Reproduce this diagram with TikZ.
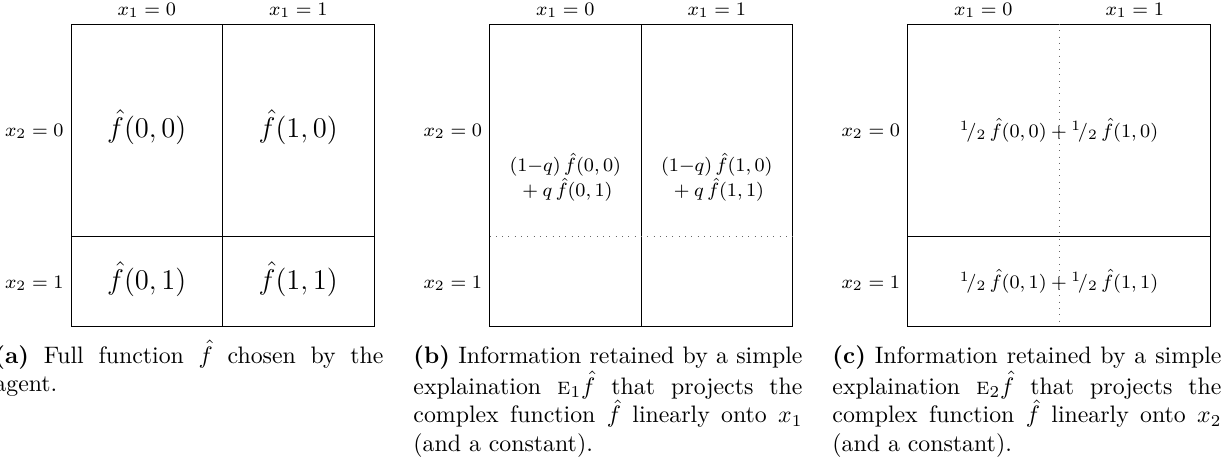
\documentclass[tikz,border=0pt]{standalone}
\usepackage{amsmath}
\newcommand{\halfw}{{}^{1}\!/{}_{2}}
\begin{document}
\begin{tikzpicture}[x=0.42pt,y=-0.42pt,
    lbl/.style={font=\footnotesize,inner sep=0pt,outer sep=0pt},
    cell/.style={font=\footnotesize,align=center,inner sep=0pt},
    bigcell/.style={font=\large,inner sep=0pt},
    capt/.style={text width=163.4pt,align=justify,inner sep=0pt,anchor=base west},
    sep/.style={draw=black!60,dash pattern=on 0.4pt off 2.25pt,line width=0.4pt}]
    \useasboundingbox (0,0) rectangle (1229,460);

    % (a) full function
    \pgfmathsetmacro{\xo}{71}
    \draw ({\xo},24) rectangle ({\xo+303},326);
    \draw ({\xo+151.5},24) -- ({\xo+151.5},326);
    \draw ({\xo},236) -- ({\xo+303},236);

    \node[lbl,anchor=base] (a-x10) at ({\xo+75.75},15) {$x_1=0$};
    \node[lbl,anchor=base] (a-x11) at ({\xo+227.25},15) {$x_1=1$};
    \node[lbl,anchor=base east] (a-x20) at ({\xo-7.5},136) {$x_2=0$};
    \node[lbl,anchor=base east] (a-x21) at ({\xo-7.5},288) {$x_2=1$};

    \node[bigcell,anchor=base] (a-c00) at ({\xo+75.75},137) {$\hat f(0,0)$};
    \node[bigcell,anchor=base] (a-c10) at ({\xo+227.25},137) {$\hat f(1,0)$};
    \node[bigcell,anchor=base] (a-c01) at ({\xo+75.75},289) {$\hat f(0,1)$};
    \node[bigcell,anchor=base] (a-c11) at ({\xo+227.25},289) {$\hat f(1,1)$};

    \node[capt] (a-cap) at (-6,363)
      {\textbf{(a)} Full function $\hat f$ chosen by the\linebreak agent.};

    % (b) projection onto x_1
    \pgfmathsetmacro{\xo}{489.5}
    \draw ({\xo},24) rectangle ({\xo+303},326);
    \draw ({\xo+151.5},24) -- ({\xo+151.5},326);
    \draw[sep] ({\xo},236) -- ({\xo+303},236);

    \node[lbl,anchor=base] (b-x10) at ({\xo+75.75},15) {$x_1=0$};
    \node[lbl,anchor=base] (b-x11) at ({\xo+227.25},15) {$x_1=1$};
    \node[lbl,anchor=base east] (b-x20) at ({\xo-7.5},136) {$x_2=0$};
    \node[lbl,anchor=base east] (b-x21) at ({\xo-7.5},288) {$x_2=1$};

    \node[cell] (b-c0) at ({\xo+75.75},177)
      {$(1{-}q)\,\hat f(0,0)$\\ ${}+q\,\hat f(0,1)$};
    \node[cell] (b-c1) at ({\xo+227.25},177)
      {$(1{-}q)\,\hat f(1,0)$\\ ${}+q\,\hat f(1,1)$};

    \node[capt] (b-cap) at (413,363)
      {\textbf{(b)} Information retained by a simple\linebreak
       explaination $\textsc{e}_1\hat f$ that projects the\linebreak
       complex function $\hat f$ linearly onto $x_1$\linebreak
       (and a constant).};

    % (c) projection onto x_2
    \pgfmathsetmacro{\xo}{907.5}
    \draw ({\xo},24) rectangle ({\xo+303},326);
    \draw[sep] ({\xo+151.5},24) -- ({\xo+151.5},326);
    \draw ({\xo},236) -- ({\xo+303},236);

    \node[lbl,anchor=base] (c-x10) at ({\xo+75.75},15) {$x_1=0$};
    \node[lbl,anchor=base] (c-x11) at ({\xo+227.25},15) {$x_1=1$};
    \node[lbl,anchor=base east] (c-x20) at ({\xo-7.5},136) {$x_2=0$};
    \node[lbl,anchor=base east] (c-x21) at ({\xo-7.5},288) {$x_2=1$};

    \node[cell,anchor=base] (c-c0) at ({\xo+151.5},137)
      {$\halfw\,\hat f(0,0)+\halfw\,\hat f(1,0)$};
    \node[cell,anchor=base] (c-c1) at ({\xo+151.5},288)
      {$\halfw\,\hat f(0,1)+\halfw\,\hat f(1,1)$};

    \node[capt] (c-cap) at (832,363)
      {\textbf{(c)} Information retained by a simple\linebreak
       explaination $\textsc{e}_2\hat f$ that projects the\linebreak
       complex function $\hat f$ linearly onto $x_2$\linebreak
       (and a constant).};
  \end{tikzpicture}
\end{document}
